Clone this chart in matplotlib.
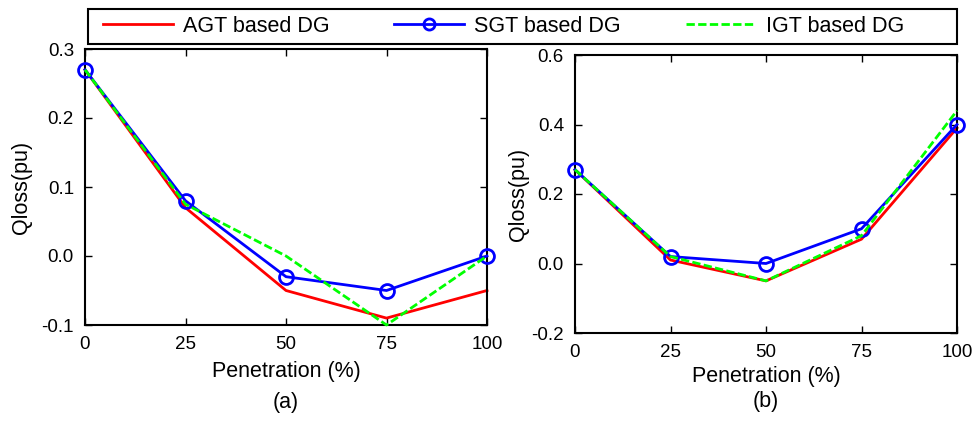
import matplotlib
matplotlib.use('Agg')
import matplotlib.pyplot as plt
from matplotlib.patches import Rectangle

plt.rcParams['font.family'] = ['Liberation Sans', 'DejaVu Sans']

penetration = [0, 25, 50, 75, 100]

# panel (a)
agt_a = [0.27, 0.07, -0.05, -0.09, -0.05]
sgt_a = [0.27, 0.08, -0.03, -0.05, 0.0]
igt_a = [0.27, 0.075, 0.0, -0.10, 0.0]

# panel (b)
agt_b = [0.27, 0.01, -0.05, 0.07, 0.39]
sgt_b = [0.27, 0.02, 0.0, 0.10, 0.40]
igt_b = [0.27, 0.02, -0.05, 0.08, 0.44]

labels = ['AGT based DG', 'SGT based DG', 'IGT based DG']


def draw_panel(ax, agt, sgt, igt, ylim, yticks, tag, xlab_y, tag_y, ylab_x):
    ax.plot(penetration, agt, '-', color='#ff0000', lw=2, label=labels[0],
            clip_on=False)
    ax.plot(penetration, sgt, '-o', color='#0000ff', lw=2, ms=10, mfc='none',
            mew=2, label=labels[1], clip_on=False, zorder=3)
    ax.plot(penetration, igt, '--', color='#00ff00', lw=2, dashes=(3, 1.2),
            label=labels[2], clip_on=False, zorder=4)
    ax.set_xlim(0, 100)
    ax.set_ylim(*ylim)
    ax.set_xticks(penetration)
    ax.set_yticks(yticks)
    ax.set_yticklabels(['%.1f' % v for v in yticks])
    ax.tick_params(direction='in', top=True, right=True, labelsize=13.5,
                   length=5, width=1, pad=8)
    for s in ax.spines.values():
        s.set_linewidth(1.5)
    ax.set_ylabel('Qloss(pu)', fontsize=15.5, va='center')
    ax.yaxis.set_label_coords(ylab_x, 0.5)
    ax.set_xlabel('Penetration (%)', fontsize=15.5, va='center')
    ax.xaxis.set_label_coords(0.5, xlab_y)
    ax.text(0.5, tag_y, tag, transform=ax.transAxes, fontsize=15.5,
            ha='center', va='center')


fig = plt.figure(figsize=(9.74, 4.22), dpi=100)

ax_a = fig.add_axes([85 / 974, 1 - 325 / 422, 402 / 974, 276 / 422])
draw_panel(ax_a, agt_a, sgt_a, igt_a, (-0.1, 0.3),
           [-0.1, 0.0, 0.1, 0.2, 0.3], '(a)', -0.170, -0.279, -0.159)

ax_b = fig.add_axes([575 / 974, 1 - 333 / 422, 382 / 974, 278 / 422])
draw_panel(ax_b, agt_b, sgt_b, igt_b, (-0.2, 0.6),
           [-0.2, 0.0, 0.2, 0.4, 0.6], '(b)', -0.158, -0.245, -0.147)

handles, _ = ax_a.get_legend_handles_labels()
leg = fig.legend(handles, labels, loc='center left',
                 bbox_to_anchor=(103 / 974, 1 - 26.5 / 422),
                 ncol=3, fontsize=15.5, frameon=False, handlelength=3.25,
                 handletextpad=0.47, columnspacing=3.0, borderpad=0,
                 borderaxespad=0, markerscale=0.8)
fig.patches.append(Rectangle((88 / 974, 1 - 44 / 422), 869 / 974, 35 / 422,
                             transform=fig.transFigure, fill=False,
                             edgecolor='black', linewidth=1.5))

fig.savefig('out.png', dpi=100)
